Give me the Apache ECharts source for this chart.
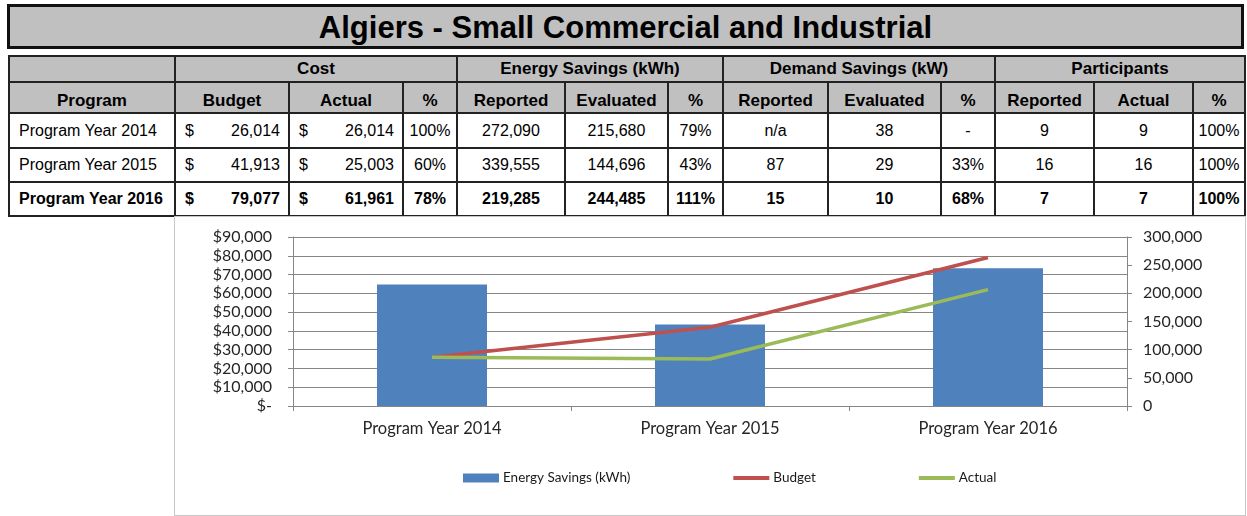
<!DOCTYPE html>
<html>
<head>
<meta charset="utf-8">
<script src="https://cdn.jsdelivr.net/npm/echarts@6/dist/echarts.min.js"></script>
<style>
  html, body { margin: 0; padding: 0; background: #fff; }
  body { width: 1247px; height: 516px; position: relative; overflow: hidden; font-family: Arial, "Liberation Sans", sans-serif; }
  #title { position: absolute; left: 7px; top: 4px; width: 1237px; height: 45px; box-sizing: border-box;
           border: 3px solid #111; background: #c0c0c0; display: flex; align-items: center; justify-content: center;
           font-weight: bold; font-size: 31px; color: #000; padding-top: 2px; }
  .cell { position: absolute; box-sizing: border-box; border: 2px solid #222; display: flex; align-items: center;
          font-size: 16px; color: #000; white-space: nowrap; overflow: hidden; }
  .hdr { background: #c0c0c0; font-weight: bold; font-size: 17px; justify-content: center; }
  .hdr2 { padding-top: 7px; }
  .c { justify-content: center; }
  .l { justify-content: flex-start; padding-left: 9px; }
  .money { justify-content: space-between; padding: 0 8px 0 9px; }
  .b { font-weight: bold; }
  #frame { position: absolute; left: 174px; top: 216px; width: 1072px; height: 300px; box-sizing: border-box; border: 1px solid #c8c8c8; }
  #chart { position: absolute; left: 175px; top: 217px; width: 1070px; height: 298px; }
</style>
</head>
<body>
<div id="title">Algiers - Small Commercial and Industrial</div>
<div id="table"></div>
<div id="frame"></div>
<div id="chart"></div>
<script>
// ---- data ----
const titleText = 'Algiers - Small Commercial and Industrial';
const groupHeaders = ['Cost', 'Energy Savings (kWh)', 'Demand Savings (kW)', 'Participants'];
const subHeaders = ['Program', 'Budget', 'Actual', '%', 'Reported', 'Evaluated', '%', 'Reported', 'Evaluated', '%', 'Reported', 'Actual', '%'];
const programs = ['Program Year 2014', 'Program Year 2015', 'Program Year 2016'];
const costBudget = [26014, 41913, 79077];
const costActual = [26014, 25003, 61961];
const costPct = ['100%', '60%', '78%'];
const energyReported = [272090, 339555, 219285];
const energyEvaluated = [215680, 144696, 244485];
const energyPct = ['79%', '43%', '111%'];
const demandReported = ['n/a', '87', '15'];
const demandEvaluated = ['38', '29', '10'];
const demandPct = ['-', '33%', '68%'];
const partReported = ['9', '16', '7'];
const partActual = ['9', '16', '7'];
const partPct = ['100%', '100%', '100%'];
const chartCategories = ['Program Year 2014', 'Program Year 2015', 'Program Year 2016'];
const seriesNames = ['Energy Savings (kWh)', 'Budget', 'Actual'];

// ---- table layout ----
const colX = [9, 175, 289, 403, 457, 565, 668, 723, 828, 941, 995, 1094, 1193, 1245];
const rowY = [56, 82, 113, 148, 182, 216];
const tbl = document.getElementById('table');
const fmt = n => n.toLocaleString('en-US');
function cell(c0, c1, r0, r1, cls, html) {
  const d = document.createElement('div');
  d.className = 'cell ' + cls;
  d.style.left = (colX[c0] - 1) + 'px';
  d.style.top = (rowY[r0] - 1) + 'px';
  d.style.width = (colX[c1] - colX[c0] + 2) + 'px';
  d.style.height = (rowY[r1] - rowY[r0] + 2) + 'px';
  d.innerHTML = html;
  tbl.appendChild(d);
}
cell(0, 1, 0, 1, 'hdr', '');
groupHeaders.forEach((g, i) => cell(1 + i * 3, 4 + i * 3, 0, 1, 'hdr', g));
subHeaders.forEach((s, i) => cell(i, i + 1, 1, 2, 'hdr hdr2', s));
programs.forEach((p, r) => {
  const b = r === 2 ? ' b' : '';
  const row = r + 2;
  cell(0, 1, row, row + 1, 'l' + b, p);
  cell(1, 2, row, row + 1, 'money' + b, '<span>$</span><span>' + fmt(costBudget[r]) + '</span>');
  cell(2, 3, row, row + 1, 'money' + b, '<span>$</span><span>' + fmt(costActual[r]) + '</span>');
  const rest = [costPct[r], fmt(energyReported[r]), fmt(energyEvaluated[r]), energyPct[r],
                demandReported[r], demandEvaluated[r], demandPct[r], partReported[r], partActual[r], partPct[r]];
  rest.forEach((v, i) => cell(3 + i, 4 + i, row, row + 1, 'c' + b, v));
});

// ---- chart ----
const chart = echarts.init(document.getElementById('chart'));
const axisGrey = '#868686';
const labelFont = { fontFamily: 'Lato', fontSize: 16, color: '#262626' };
const lineIcon = 'path://M0,0H36V0.01H0Z M0,2H36V6H0Z M0,7.99H36V8H0Z';
chart.setOption({
  animation: false,
  grid: { left: 118, right: 118, top: 20, bottom: 109 },
  legend: {
    data: [
      { name: seriesNames[0], icon: 'rect' },
      { name: seriesNames[1], icon: lineIcon },
      { name: seriesNames[2], icon: lineIcon }
    ],
    left: 283, top: 249, itemGap: 103, itemWidth: 36, itemHeight: 9,
    textStyle: { fontFamily: 'Lato', fontSize: 13.5, color: '#1a1a1a', padding: [0, 0, 0, -1] }
  },
  xAxis: {
    type: 'category', data: chartCategories,
    axisLine: { lineStyle: { color: axisGrey, width: 1 } },
    axisTick: { show: true, length: 5, lineStyle: { color: axisGrey } },
    axisLabel: Object.assign({}, labelFont, { margin: 14, fontSize: 16.5 })
  },
  yAxis: [
    {
      type: 'value', min: 0, max: 90000, interval: 10000,
      axisLine: { show: true, lineStyle: { color: axisGrey } },
      axisTick: { show: true, length: 5, lineStyle: { color: axisGrey } },
      splitLine: { lineStyle: { color: axisGrey, width: 1 } },
      axisLabel: Object.assign({ margin: 21, formatter: v => v === 0 ? '$-' : '$' + v.toLocaleString('en-US') }, labelFont)
    },
    {
      type: 'value', min: 0, max: 300000, interval: 50000,
      axisLine: { show: true, lineStyle: { color: axisGrey } },
      axisTick: { show: true, length: 5, lineStyle: { color: axisGrey } },
      splitLine: { show: false },
      axisLabel: Object.assign({ margin: 16, formatter: v => v.toLocaleString('en-US') }, labelFont)
    }
  ],
  series: [
    { name: seriesNames[0], type: 'bar', yAxisIndex: 1, data: energyEvaluated, barWidth: 110,
      itemStyle: { color: '#4f81bd' }, z: 1 },
    { name: seriesNames[1], type: 'line', yAxisIndex: 0, data: costBudget, symbol: 'none',
      lineStyle: { color: '#c0504d', width: 3.5 }, itemStyle: { color: '#c0504d' }, z: 3 },
    { name: seriesNames[2], type: 'line', yAxisIndex: 0, data: costActual, symbol: 'none',
      lineStyle: { color: '#9bbb59', width: 3.5 }, itemStyle: { color: '#9bbb59' }, z: 3 }
  ]
});
</script>
</body>
</html>
